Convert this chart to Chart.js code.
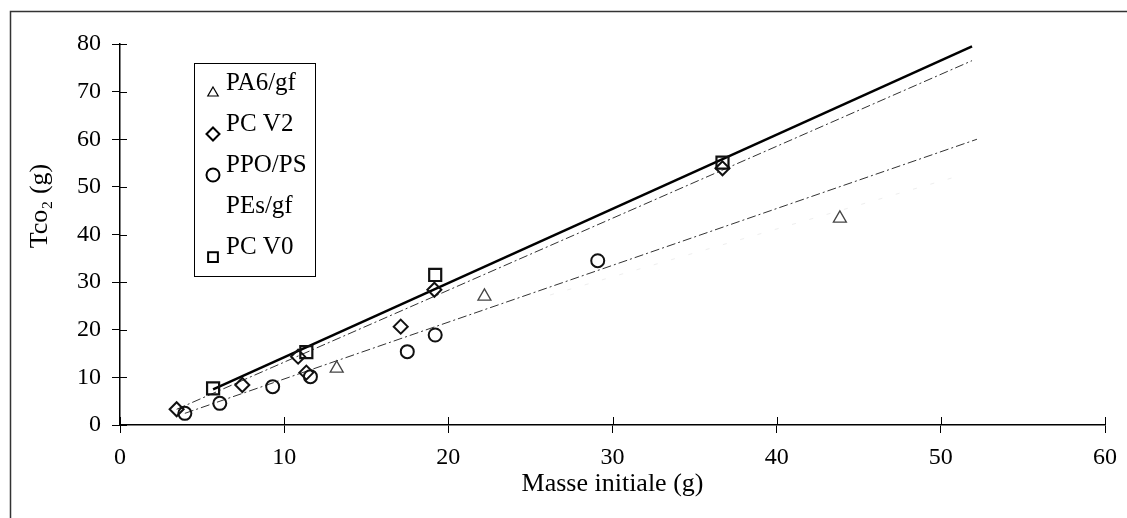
<!DOCTYPE html>
<html>
<head>
<meta charset="utf-8">
<script src="https://cdn.jsdelivr.net/npm/chart.js@4.4.1/dist/chart.umd.min.js"></script>
<style>
  html, body { margin: 0; padding: 0; background: #fff; }
  canvas { display: block; }
</style>
</head>
<body>
<canvas id="chart" width="1127" height="518"></canvas>
<script>
// axes
const xTicks = [0, 10, 20, 30, 40, 50, 60];
const yTicks = [0, 10, 20, 30, 40, 50, 60, 70, 80];

// measured points (masse initiale, Tco2)
const pa6Mass = [13.2, 22.2, 43.85];
const pa6Co2 = [11.9, 27.0, 43.4];

const pcv2Mass = [3.45, 7.45, 10.85, 11.35, 17.1, 19.15, 36.7];
const pcv2Co2 = [3.3, 8.4, 14.35, 11.0, 20.65, 28.4, 53.9];

const ppoMass = [3.95, 6.08, 9.3, 11.6, 17.5, 19.2, 29.1];
const ppoCo2 = [2.45, 4.55, 8.05, 10.15, 15.4, 18.9, 34.5];

const pcv0Mass = [5.67, 11.35, 19.2, 36.7];
const pcv0Co2 = [7.7, 15.3, 31.5, 55.1];

// trend lines (start / end)
const pcv0FitX = [5.67, 51.9];
const pcv0FitY = [7.5, 79.5];
const pcv2FitX = [3.45, 51.9];
const pcv2FitY = [3.3, 76.5];
const ppoFitX = [3.95, 52.2];
const ppoFitY = [2.45, 60.0];
const pesFitX = [26.2, 50.9];
const pesFitY = [27.3, 52.1];

const legendLabels = ['PA6/gf', 'PC V2', 'PPO/PS', 'PEs/gf', 'PC V0'];
const legendStyles = ['triangle', 'rectRot', 'circle', null, 'rect'];

const FONT = "'Liberation Serif', 'Times New Roman', serif";

function pts(xs, ys) {
  return xs.map((x, i) => ({ x: x, y: ys[i] }));
}

function markers(label, xs, ys, style, radius, width, color) {
  return {
    label: label,
    data: pts(xs, ys),
    showLine: false,
    pointStyle: style,
    pointRadius: radius,
    pointBorderWidth: width,
    pointBorderColor: color,
    pointBackgroundColor: 'rgba(0,0,0,0)'
  };
}

function fitLine(xs, ys, color, width, dash) {
  return {
    data: pts(xs, ys),
    showLine: true,
    pointRadius: 0,
    borderColor: color,
    borderWidth: width,
    borderDash: dash,
    fill: false
  };
}

// white page with the frame lines on top / left
const framePlugin = {
  id: 'frame',
  beforeDraw(chart) {
    const ctx = chart.ctx;
    ctx.save();
    ctx.fillStyle = '#fff';
    ctx.fillRect(0, 0, chart.width, chart.height);
    ctx.strokeStyle = '#333';
    ctx.lineWidth = 1.5;
    ctx.beginPath();
    ctx.moveTo(10.5, chart.height);
    ctx.lineTo(10.5, 11.5);
    ctx.lineTo(chart.width, 11.5);
    ctx.stroke();
    ctx.restore();
  }
};

// tick marks cross the axis lines
const crossTicks = {
  id: 'crossTicks',
  afterDraw(chart) {
    const ctx = chart.ctx;
    const xs = chart.scales.x, ys = chart.scales.y;
    const area = chart.chartArea;
    ctx.save();
    ctx.strokeStyle = '#000';
    ctx.lineWidth = 1;
    ctx.beginPath();
    xTicks.forEach(v => {
      const px = Math.round(xs.getPixelForValue(v)) + 0.5;
      ctx.moveTo(px, area.bottom);
      ctx.lineTo(px, area.bottom - 8);
    });
    yTicks.forEach(v => {
      const py = Math.round(ys.getPixelForValue(v)) + 0.5;
      ctx.moveTo(area.left, py);
      ctx.lineTo(area.left + 7, py);
    });
    ctx.stroke();
    ctx.restore();
  }
};

function drawMarker(ctx, style, x, y, r) {
  ctx.beginPath();
  if (style === 'triangle') {
    ctx.moveTo(x, y - r);
    ctx.lineTo(x + r * 0.87, y + r * 0.5);
    ctx.lineTo(x - r * 0.87, y + r * 0.5);
    ctx.closePath();
  } else if (style === 'rectRot') {
    ctx.moveTo(x, y - r);
    ctx.lineTo(x + r, y);
    ctx.lineTo(x, y + r);
    ctx.lineTo(x - r, y);
    ctx.closePath();
  } else if (style === 'circle') {
    ctx.arc(x, y, r, 0, Math.PI * 2);
  } else if (style === 'rect') {
    const s = r * 0.75;
    ctx.rect(x - s, y - s, s * 2, s * 2);
  }
  ctx.stroke();
}

// boxed legend inside the plot area
const legendBox = {
  id: 'legendBox',
  afterDraw(chart) {
    const ctx = chart.ctx;
    ctx.save();
    ctx.strokeStyle = '#000';
    ctx.lineWidth = 1;
    ctx.strokeRect(194.5, 63.5, 121, 213);
    ctx.font = '25px ' + FONT;
    ctx.fillStyle = '#000';
    ctx.textBaseline = 'middle';
    ctx.textAlign = 'left';
    legendLabels.forEach((label, i) => {
      const y = 83 + i * 41;
      ctx.fillText(label, 226, y);
      const style = legendStyles[i];
      if (style) {
        ctx.lineWidth = style === 'triangle' ? 1.2 : 2;
        drawMarker(ctx, style, 213, y + 10, style === 'triangle' ? 6 : 6.5);
      }
    });
    ctx.restore();
  }
};

// rotated y title with subscript
const yTitle = {
  id: 'yTitle',
  afterDraw(chart) {
    const ctx = chart.ctx;
    ctx.save();
    ctx.translate(40, 206);
    ctx.rotate(-Math.PI / 2);
    ctx.font = '26px ' + FONT;
    ctx.fillStyle = '#000';
    ctx.textAlign = 'center';
    ctx.textBaseline = 'middle';
    ctx.fillText('Tco\u2082 (g)', 0, 0);
    ctx.restore();
  }
};

new Chart(document.getElementById('chart'), {
  type: 'scatter',
  data: {
    datasets: [
      markers('PC V0', pcv0Mass, pcv0Co2, 'rect', 8.5, 2.2, '#111'),
      markers('PC V2', pcv2Mass, pcv2Co2, 'rectRot', 7, 2, '#111'),
      markers('PPO/PS', ppoMass, ppoCo2, 'circle', 6.5, 2, '#111'),
      markers('PA6/gf', pa6Mass, pa6Co2, 'triangle', 7.5, 1.3, '#444'),
      fitLine(pcv0FitX, pcv0FitY, '#000', 2.5, []),
      fitLine(pcv2FitX, pcv2FitY, '#333', 1, [9, 3, 2, 3]),
      fitLine(ppoFitX, ppoFitY, '#333', 1, [9, 3, 2, 3]),
      fitLine(pesFitX, pesFitY, '#eeeeee', 1, [4, 14])
    ]
  },
  options: {
    responsive: false,
    animation: false,
    events: [],
    layout: { padding: { top: 44, right: 20, left: 0, bottom: 0 } },
    plugins: {
      legend: { display: false },
      tooltip: { enabled: false }
    },
    scales: {
      x: {
        type: 'linear',
        min: 0,
        max: 60,
        afterBuildTicks: s => { s.ticks = xTicks.map(v => ({ value: v })); },
        afterFit: s => { s.height = 93; },
        grid: { drawOnChartArea: false, tickLength: 8, color: '#000', lineWidth: 1 },
        border: { color: '#000', width: 1.5 },
        ticks: { padding: 10, color: '#000', maxRotation: 0, font: { family: FONT, size: 24 } },
        title: {
          display: true,
          text: 'Masse initiale (g)',
          color: '#000',
          font: { family: FONT, size: 26 },
          padding: { top: 0, bottom: 18 }
        }
      },
      y: {
        type: 'linear',
        min: 0,
        max: 80,
        afterBuildTicks: s => { s.ticks = yTicks.map(v => ({ value: v })); },
        afterFit: s => { s.width = 120; },
        grid: { drawOnChartArea: false, tickLength: 8, color: '#000', lineWidth: 1 },
        border: { color: '#000', width: 1.5 },
        ticks: { padding: 11, color: '#000', font: { family: FONT, size: 24 } }
      }
    }
  },
  plugins: [framePlugin, crossTicks, legendBox, yTitle]
});
</script>
</body>
</html>
